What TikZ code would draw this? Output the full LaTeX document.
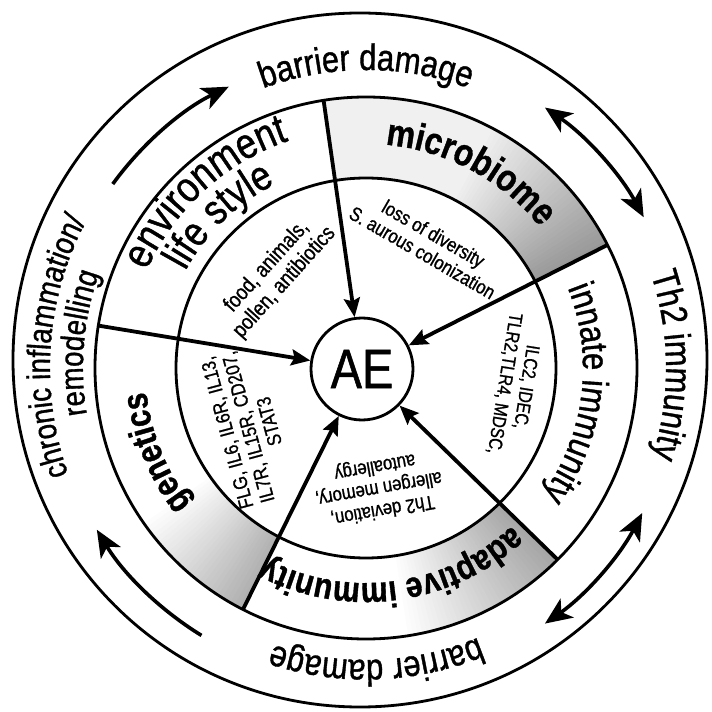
\documentclass[tikz,border=0pt]{standalone}
\usepackage{fontspec}
\setmainfont{Liberation Sans}[FakeStretch=0.84,FakeBold=1]
\usetikzlibrary{arrows.meta,decorations.text}
\newcommand{\FS}[2]{\fontsize{#1}{#2}\selectfont}
% #1 start angle, #2 end angle, #3 radius, #4 format, #5 text
\newcommand{\ArcLabel}[5]{\path[decorate,decoration={text along path,text align=center,text={|#4|#5}}] (#1:#3) arc[start angle=#1,end angle=#2,radius=#3];}
\begin{document}
\begin{tikzpicture}[x=1bp,y=1bp,
  ringline/.style={line width=2.8bp},
  radarrow/.style={line width=3.8bp,-{Stealth[length=19bp,width=16bp,inset=3bp]}},
  cyclearrow/.style={line width=3.6bp,-{Stealth[length=27bp,width=23bp,inset=7bp]}},
  cyclearrows/.style={line width=3.6bp,{Stealth[length=27bp,width=23bp,inset=7bp]}-{Stealth[length=27bp,width=23bp,inset=7bp]}},
  innertext/.style={align=center,inner sep=0pt,font=\FS{20}{22}},
]
\useasboundingbox (-366,-344) rectangle (346,368);
% shading of the label ring
\foreach \a in {27,...,98}{
  \pgfmathsetmacro{\g}{\a<62 ? 6+34*(62-\a)/35 : 6}
  \pgfmathsetmacro{\e}{min(\a+1.4,99)}
  \fill[black!\g] (\a:190) arc[start angle=\a,end angle=\e,radius=190] -- (\e:271) arc[start angle=\e,end angle=\a,radius=271] -- cycle;
}
\foreach \a in {-82,...,-46}{
  \pgfmathsetmacro{\g}{36*(\a+82)/37}
  \pgfmathsetmacro{\e}{min(\a+1.4,-45)}
  \fill[black!\g] (\a:190) arc[start angle=\a,end angle=\e,radius=190] -- (\e:271) arc[start angle=\e,end angle=\a,radius=271] -- cycle;
}
\foreach \a in {214,...,242}{
  \pgfmathsetmacro{\g}{32*(\a-214)/29}
  \pgfmathsetmacro{\e}{min(\a+1.4,243)}
  \fill[black!\g] (\a:190) arc[start angle=\a,end angle=\e,radius=190] -- (\e:271) arc[start angle=\e,end angle=\a,radius=271] -- cycle;
}
% circles
\draw[ringline] (-6,8) circle[radius=347];
\draw[ringline] (0,0) circle[radius=271];
\draw[ringline] (0,0) circle[radius=190];
% centre node
\node[circle,draw,ringline,minimum size=102bp,inner sep=0pt,font=\FS{56}{56}] (ae) at (-4,-1) {AE};
% sector boundaries with arrows to AE
\foreach \i/\a in {1/27,2/99,3/171,4/243,5/315}{
  \coordinate (b\i) at (\a:271);
  \draw[radarrow] (b\i) -- (ae);
}
% outer ring labels
\ArcLabel{140}{40}{298}{\FS{37}{37}}{barrier damage}
\ArcLabel{50.5}{-49.5}{300}{\FS{37}{37}}{Th2 immunity}
\ArcLabel{-38}{-138}{292}{\FS{37}{37}}{barrier damage}
\ArcLabel{236}{116}{316}{\FS{33}{33}}{chronic inflammation/}
\ArcLabel{235}{115}{283}{\FS{33}{33}}{remodelling}
% outer ring arrows
\coordinate (c1) at (144:313);
\draw[cyclearrow] (c1) arc[start angle=144,end angle=116,radius=313];
\coordinate (c2) at (55.5:316);
\draw[cyclearrows] (c2) arc[start angle=55.5,end angle=28.5,radius=316];
\coordinate (c3) at (-27.7:312);
\draw[cyclearrows] (c3) arc[start angle=-27.7,end angle=-55,radius=312];
\coordinate (c4) at (238.4:314);
\draw[cyclearrow] (c4) arc[start angle=238.4,end angle=211,radius=314];
% sector labels
\ArcLabel{172.4}{92.4}{240}{\FS{43}{43}}{environment}
\ArcLabel{174}{94}{205}{\FS{42}{42}}{life style}
\ArcLabel{102}{22}{224}{\FS{38}{38}\bfseries}{microbiome}
\ArcLabel{33}{-47}{217}{\FS{37}{37}}{innate immunity}
\ArcLabel{-42.5}{-122.5}{215}{\FS{36}{36}\bfseries}{adaptive immunity}
\ArcLabel{242}{162}{221}{\FS{36}{36}\bfseries}{genetics}
% inner texts
\node[innertext,rotate=48,font=\FS{22}{24}] (tenv) at (134:130) {food, animals,\\pollen, antibiotics};
\node[innertext,rotate=-30] (tmic) at (63.6:139.5) {loss of diversity\\S. aurous colonization};
\node[innertext,rotate=-99,font=\FS{19}{22}] (tinn) at (-6.6:150) {ILC2, IDEC,\\TLR2,TLR4, MDSC,};
\node[innertext,rotate=190] (tada) at (-84:120.6) {Th2 deviation,\\allergen memory,\\autoallergy};
\node[innertext,rotate=105] (tgen) at (206.6:132) {FLG, IL6, IL6R, IL13,\\IL7R, IL15R, CD207,\\STAT3};
\end{tikzpicture}
\end{document}
